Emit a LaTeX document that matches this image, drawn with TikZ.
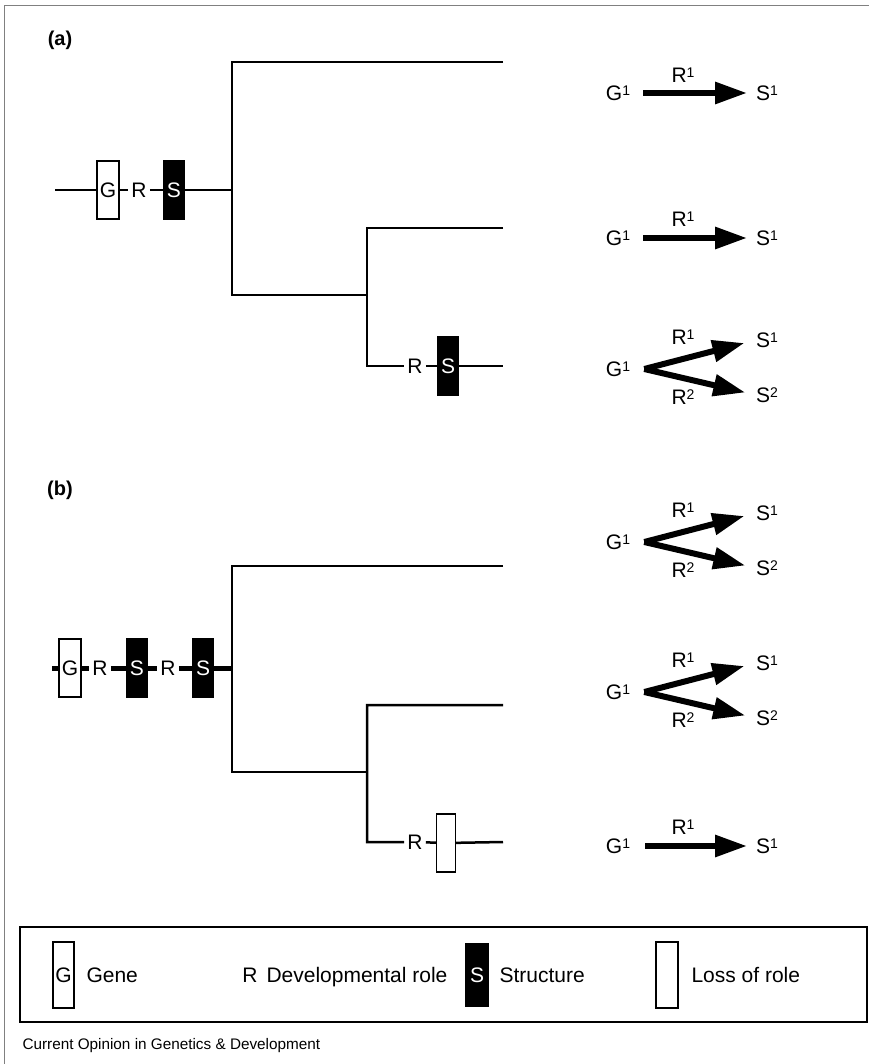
\documentclass[tikz,border=0pt]{standalone}
\usepackage{fontspec}
\setmainfont{Liberation Sans}
\usetikzlibrary{arrows.meta,positioning}

\newcommand\lettersize{\fontsize{21}{24}\selectfont}
\newcommand\upnum[1]{\raisebox{5pt}{\fontsize{14}{16}\selectfont #1}}

\tikzset{
  box/.style = {draw, line width=1.2pt, minimum width=22pt, minimum height=58pt, inner sep=0pt, font=\lettersize},
  genebox/.style = {box, fill=white},
  structbox/.style = {box, fill=black, text=white, minimum width=20pt},
  role/.style = {inner sep=3pt, font=\lettersize, text height=15pt, text depth=0pt},
  branch/.style = {line width=1.5pt},
  thickbranch/.style = {line width=2.5pt},
  fatarrow/.style = {line width=6pt, -{Triangle[length=32pt,width=21pt]}},
  expr/.style = {inner sep=0pt, font=\lettersize, text height=15pt, text depth=0pt},
  legend/.style = {anchor=west, font=\lettersize, text height=15pt, text depth=0pt},
}

\begin{document}
\begin{tikzpicture}[x=1pt, y=-1pt]
  \useasboundingbox (0,0) rectangle (869,1064);

  % outer frame
  \draw[gray, line width=1pt] (4,1064) -- (4,6) -- (869,6);

  % (a)
  \node[font=\fontsize{20}{23}\selectfont\bfseries] (labela) at (60,40) {(a)};

  % Drawing of the tree
  \coordinate (aroot) at (55,190);
  \node[genebox] (aG) at (108,190) {G};
  \node[role] (aR) at (139,190) {R};
  \node[structbox] (aS) at (174,190) {S};
  \coordinate (aj1t) at (232,62);
  \coordinate (aj1) at (232,190);
  \coordinate (aj1b) at (232,295);
  \coordinate (aj2t) at (367,228);
  \coordinate (aj2b) at (367,366);
  \coordinate (aj2) at (367,295);
  \coordinate (aend1) at (503,62);
  \coordinate (aend2) at (503,228);
  \coordinate (aend3) at (503,366);
  \node[role] (aR3) at (415,366) {R};
  \node[structbox] (aS3) at (448,366) {S};
  \draw[branch] (aroot) -- (aG) -- (aR) -- (aS) -- (aj1);
  \draw[branch] (aend1) -- (aj1t) -- (aj1b) -- (aj2);
  \draw[branch] (aend2) -- (aj2t) -- (aj2b) -- (aR3) -- (aS3) -- (aend3);

  % Roles of the gene
  \node[expr] (ag1) at (618,93) {G\upnum{1}};
  \node[expr, anchor=west] (as1) at (756,93) {S\upnum{1}};
  \node[expr] (ar1) at (683,75) {R\upnum{1}};
  \coordinate (afork) at ([xshift=13pt]ag1.east);
  \draw[fatarrow, shorten >=9pt] (afork) -- (as1.west);

  \node[expr] (bg1) at (618,238) {G\upnum{1}};
  \node[expr, anchor=west] (bs1) at (756,238) {S\upnum{1}};
  \node[expr] (br1) at (683,219) {R\upnum{1}};
  \coordinate (bfork) at ([xshift=13pt]bg1.east);
  \draw[fatarrow, shorten >=9pt] (bfork) -- (bs1.west);

  \node[expr] (cg1) at (618,369) {G\upnum{1}};
  \node[expr, anchor=west] (cs1) at (756,340) {S\upnum{1}};
  \node[expr, anchor=west] (cs2) at (756,395) {S\upnum{2}};
  \node[expr] (cr1) at (683,337) {R\upnum{1}};
  \node[expr] (cr2) at (683,397) {R\upnum{2}};
  \coordinate (cfork) at ([xshift=14pt]cg1.east);
  \draw[fatarrow, shorten >=12pt] (cfork) -- (cs1.west);
  \draw[fatarrow, shorten >=11pt] (cfork) -- (cs2.west);

  % (b)
  \node[font=\fontsize{20}{23}\selectfont\bfseries] (labelb) at (60,490) {(b)};

  % Drawing of the tree
  \coordinate (broot) at (52,668);
  \node[genebox] (bG) at (70,668) {G};
  \node[role] (bR) at (100,668) {R};
  \node[structbox] (bS) at (137,668) {S};
  \node[role] (bRR) at (168,668) {R};
  \node[structbox] (bSS) at (203,668) {S};
  \coordinate (bj1t) at (232,566);
  \coordinate (bj1) at (232,668);
  \coordinate (bj1b) at (232,772);
  \coordinate (bj2t) at (367,705);
  \coordinate (bj2b) at (367,842);
  \coordinate (bj2) at (367,772);
  \coordinate (bend1) at (503,566);
  \coordinate (bend2) at (503,705);
  \coordinate (bend3) at (503,842);
  \node[role] (bR3) at (415,842) {R};
  \node[genebox, minimum width=19pt] (bL3) at (446,843) {};
  \draw[line width=5pt] (broot) -- (bG) -- (bR) -- (bS) -- (bRR) -- (bSS) -- (bj1);
  \draw[thickbranch] (bend1) -- (bj1t) -- (bj1b) -- (bj2);
  \draw[thickbranch] (bend2) -- (bj2t) -- (bj2b) -- (bR3) -- (bL3) -- (bend3);

  % Roles of the gene
  \node[expr] (dg1) at (618,542) {G\upnum{1}};
  \node[expr, anchor=west] (ds1) at (756,513) {S\upnum{1}};
  \node[expr, anchor=west] (ds2) at (756,568) {S\upnum{2}};
  \node[expr] (dr1) at (683,510) {R\upnum{1}};
  \node[expr] (dr2) at (683,570) {R\upnum{2}};
  \coordinate (dfork) at ([xshift=14pt]dg1.east);
  \draw[fatarrow, shorten >=12pt] (dfork) -- (ds1.west);
  \draw[fatarrow, shorten >=11pt] (dfork) -- (ds2.west);

  \node[expr] (eg1) at (618,692) {G\upnum{1}};
  \node[expr, anchor=west] (es1) at (756,663) {S\upnum{1}};
  \node[expr, anchor=west] (es2) at (756,718) {S\upnum{2}};
  \node[expr] (er1) at (683,660) {R\upnum{1}};
  \node[expr] (er2) at (683,720) {R\upnum{2}};
  \coordinate (efork) at ([xshift=14pt]eg1.east);
  \draw[fatarrow, shorten >=12pt] (efork) -- (es1.west);
  \draw[fatarrow, shorten >=11pt] (efork) -- (es2.west);

  \node[expr] (fg1) at (618,846) {G\upnum{1}};
  \node[expr, anchor=west] (fs1) at (756,846) {S\upnum{1}};
  \node[expr] (fr1) at (683,827) {R\upnum{1}};
  \coordinate (ffork) at ([xshift=15pt]fg1.east);
  \draw[fatarrow, shorten >=9pt] (ffork) -- (fs1.west);

  % legend
  \draw[line width=1.5pt] (20,927) rectangle (867,1022);
  \node[genebox, minimum width=21pt, minimum height=66pt] (lgG) at (63.5,975) {G};
  \node[legend] (lgGene) at (83,975) {Gene};
  \node[role] (lgR) at (250,975) {R};
  \node[legend] (lgRole) at (263,975) {Developmental role};
  \node[structbox, minimum width=22pt, minimum height=62pt] (lgS) at (477,975) {S};
  \node[legend] (lgStruct) at (496,975) {Structure};
  \node[genebox, minimum width=22pt, minimum height=66pt] (lgLoss) at (667,975) {};
  \node[legend] (lgLossText) at (688,975) {Loss of role};

  % caption
  \node[anchor=west, font=\fontsize{15.3}{17}\selectfont] (caption) at (19,1046) {Current Opinion in Genetics \& Development};
\end{tikzpicture}
\end{document}
